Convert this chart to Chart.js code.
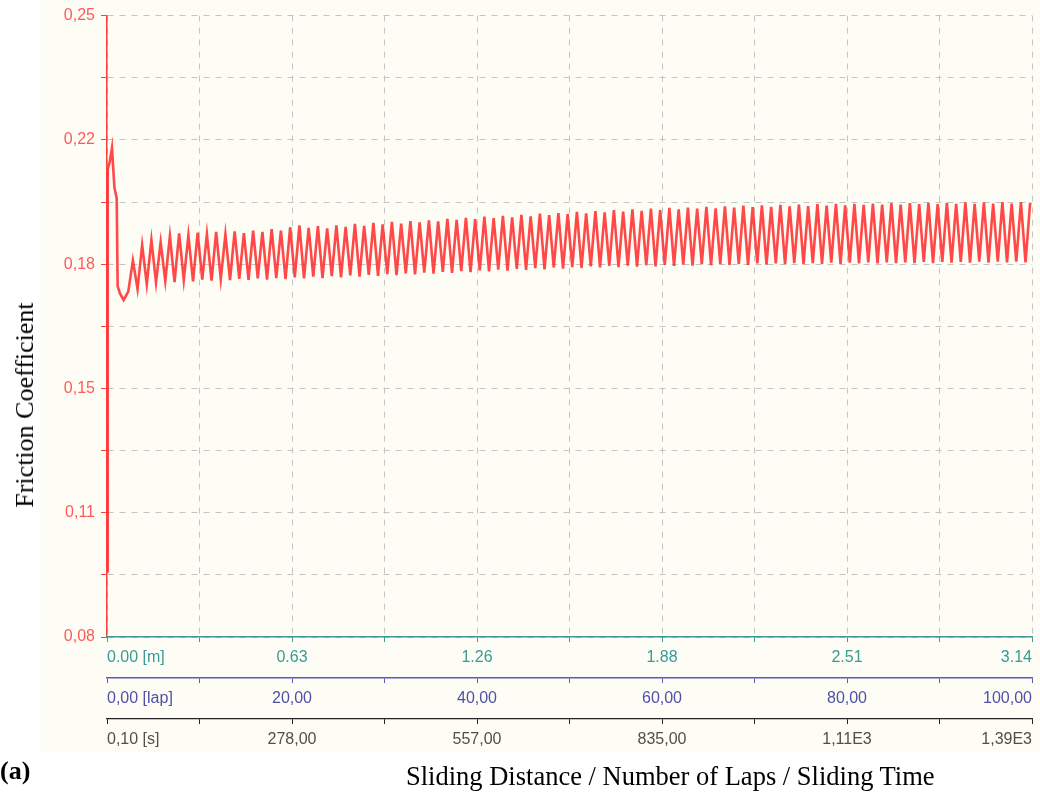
<!DOCTYPE html>
<html>
<head>
<meta charset="utf-8">
<script src="https://cdn.jsdelivr.net/npm/chart.js@4"></script>
<style>
  body { margin: 0; background: #fff; }
  #wrap { position: relative; width: 1040px; height: 794px; }
  #ytitle { position: absolute; left: 25px; top: 405px; transform: translate(-50%, -50%) rotate(-90deg);
            font: 26px "Liberation Serif", "Times New Roman", serif; white-space: nowrap; color: #000; }
  #xtitle { position: absolute; left: 406px; top: 761px; line-height: 30px;
            font: 26.5px "Liberation Serif", "Times New Roman", serif; white-space: nowrap; color: #000; }
  #panel { position: absolute; left: 0px; top: 756px; line-height: 30px;
           font: bold 26px "Liberation Serif", "Times New Roman", serif; color: #000; }
</style>
</head>
<body>
<div id="wrap">
  <canvas id="frictionChart" width="1040" height="794"></canvas>
  <div id="ytitle">Friction Coefficient</div>
  <div id="xtitle">Sliding Distance / Number of Laps / Sliding Time</div>
  <div id="panel">(a)</div>
</div>
<script>
// axis ticks and labels
const yTicks = [0.08, 0.097, 0.114, 0.131, 0.148, 0.165, 0.182, 0.199, 0.216, 0.233, 0.25];
const yLabels = ['0,08', '', '0,11', '', '0,15', '', '0,18', '', '0,22', '', '0,25'];
const lapTicks = [0, 10, 20, 30, 40, 50, 60, 70, 80, 90, 100];
const lapLabels = ['0,00 [lap]', '', '20,00', '', '40,00', '', '60,00', '', '80,00', '', '100,00'];
const distLabels = ['0.00 [m]', '', '0.63', '', '1.26', '', '1.88', '', '2.51', '', '3.14'];
const timeLabels = ['0,10 [s]', '', '278,00', '', '557,00', '', '835,00', '', '1,11E3', '', '1,39E3'];

// running-in part (lap, friction)
const leadLaps = [0, 0.08, 0.3, 0.54, 0.8, 1.05, 1.15, 1.4, 1.8];
const leadVals = [0.098, 0.208, 0.210, 0.2138, 0.203, 0.200, 0.176, 0.174, 0.1722];

// one oscillation per lap, laps 2..99
const firstLap = 2;
const troughs = [
  0.1745, 0.1752, 0.1765, 0.1770, 0.1774, 0.1771, 0.1777, 0.1773,           // 2-9
  0.1778, 0.1775, 0.1779, 0.1776, 0.1780, 0.1777, 0.1781, 0.1778, 0.1782, 0.1779, // 10-19
  0.1784, 0.1781, 0.1786, 0.1782, 0.1787, 0.1784, 0.1789, 0.1786, 0.1791, 0.1788, // 20-29
  0.1793, 0.1790, 0.1795, 0.1792, 0.1797, 0.1794, 0.1799, 0.1796, 0.1801, 0.1798, // 30-39
  0.1803, 0.1800, 0.1805, 0.1802, 0.1807, 0.1804, 0.1809, 0.1806, 0.1811, 0.1808, // 40-49
  0.1812, 0.1810, 0.1814, 0.1811, 0.1815, 0.1812, 0.1816, 0.1813, 0.1817, 0.1814, // 50-59
  0.1818, 0.1815, 0.1819, 0.1816, 0.1820, 0.1817, 0.1820, 0.1818, 0.1821, 0.1818, // 60-69
  0.1822, 0.1819, 0.1822, 0.1820, 0.1823, 0.1820, 0.1823, 0.1821, 0.1824, 0.1821, // 70-79
  0.1824, 0.1822, 0.1825, 0.1822, 0.1825, 0.1823, 0.1825, 0.1823, 0.1826, 0.1823, // 80-89
  0.1826, 0.1824, 0.1826, 0.1824, 0.1827, 0.1824, 0.1827, 0.1825, 0.1827, 0.1825  // 90-99
];
const peaks = [
  0.1830, 0.1872, 0.1886, 0.1880, 0.1897, 0.1904, 0.1899, 0.1906,           // 2-9
  0.1902, 0.1908, 0.1901, 0.1910, 0.1905, 0.1912, 0.1908, 0.1916, 0.1912, 0.1921, // 10-19
  0.1926, 0.1919, 0.1924, 0.1918, 0.1926, 0.1922, 0.1930, 0.1925, 0.1933, 0.1929, // 20-29
  0.1936, 0.1931, 0.1938, 0.1934, 0.1940, 0.1937, 0.1944, 0.1941, 0.1947, 0.1943, // 30-39
  0.1950, 0.1946, 0.1952, 0.1948, 0.1955, 0.1951, 0.1958, 0.1954, 0.1960, 0.1957, // 40-49
  0.1963, 0.1959, 0.1965, 0.1962, 0.1968, 0.1964, 0.1970, 0.1966, 0.1972, 0.1968, // 50-59
  0.1974, 0.1970, 0.1975, 0.1972, 0.1977, 0.1973, 0.1978, 0.1975, 0.1980, 0.1976, // 60-69
  0.1981, 0.1977, 0.1982, 0.1978, 0.1983, 0.1979, 0.1984, 0.1980, 0.1985, 0.1981, // 70-79
  0.1985, 0.1982, 0.1986, 0.1983, 0.1987, 0.1983, 0.1987, 0.1984, 0.1988, 0.1984, // 80-89
  0.1988, 0.1985, 0.1989, 0.1985, 0.1989, 0.1986, 0.1990, 0.1986, 0.1990, 0.1988  // 90-99
];

const points = [];
leadLaps.forEach((l, i) => points.push({ x: l, y: leadVals[i] }));
for (let i = 0; i < peaks.length; i++) {
  const lap = firstLap + i;
  points.push({ x: lap + 0.3, y: troughs[i] });
  points.push({ x: lap + 0.8, y: peaks[i] });
}

const labelFont = { family: 'Liberation Sans', size: 16 };
const gridGray = '#c4c4c4';

const background = {
  id: 'background',
  beforeDraw(chart) {
    const ctx = chart.ctx;
    ctx.save();
    ctx.fillStyle = '#fdfdf5';
    ctx.fillRect(40, 0, 1000, 752);
    ctx.restore();
  }
};

const ctx = document.getElementById('frictionChart').getContext('2d');
new Chart(ctx, {
  type: 'line',
  data: {
    datasets: [{
      data: points,
      xAxisID: 'x',
      yAxisID: 'y',
      borderColor: 'rgba(255, 40, 40, 0.85)',
      borderWidth: 2.6,
      pointRadius: 0,
      tension: 0,
      fill: false
    }]
  },
  options: {
    responsive: false,
    animation: false,
    devicePixelRatio: 1,
    layout: { padding: { top: 10, right: 8, bottom: 39, left: 0 } },
    plugins: { legend: { display: false }, tooltip: { enabled: false } },
    scales: {
      y: {
        type: 'linear',
        position: 'left',
        min: 0.08,
        max: 0.25,
        afterBuildTicks: s => { s.ticks = yTicks.map(v => ({ value: v })); },
        afterFit: s => { s.width = 107; },
        ticks: { callback: (v, i) => yLabels[i], color: '#ff5a5a', font: labelFont, padding: 6, autoSkip: false },
        grid: { color: gridGray, lineWidth: 1, tickColor: '#ff4040', tickLength: 6 },
        border: { color: '#ff4040', width: 1.5, dash: [6, 6] }
      },
      xm: {
        type: 'category',
        labels: distLabels,
        position: 'bottom',
        weight: 1,
        afterFit: s => { s.height = 41; },
        ticks: { color: '#3a9a96', font: labelFont, align: 'inner', padding: 6, autoSkip: false, maxRotation: 0 },
        grid: { drawOnChartArea: false, tickColor: '#3a9a94', tickLength: 5 },
        border: { color: '#3a9a94', width: 1.5 }
      },
      x: {
        type: 'linear',
        position: 'bottom',
        weight: 2,
        min: 0,
        max: 100,
        afterBuildTicks: s => { s.ticks = lapTicks.map(v => ({ value: v })); },
        afterFit: s => { s.height = 41; },
        ticks: { callback: (v, i) => lapLabels[i], color: '#5050a8', font: labelFont, align: 'inner', padding: 6, autoSkip: false, maxRotation: 0 },
        grid: { color: gridGray, lineWidth: 1, tickColor: '#5a5ab8', tickLength: 5 },
        border: { color: '#5a5ab8', width: 1.5, dash: [6, 6] }
      },
      xs: {
        type: 'category',
        labels: timeLabels,
        position: 'bottom',
        weight: 3,
        afterFit: s => { s.height = 36; },
        ticks: { color: '#50504a', font: labelFont, align: 'inner', padding: 6, autoSkip: false, maxRotation: 0 },
        grid: { drawOnChartArea: false, tickColor: '#222', tickLength: 5 },
        border: { color: '#222', width: 1.2 }
      }
    }
  },
  plugins: [background]
});
</script>
</body>
</html>
